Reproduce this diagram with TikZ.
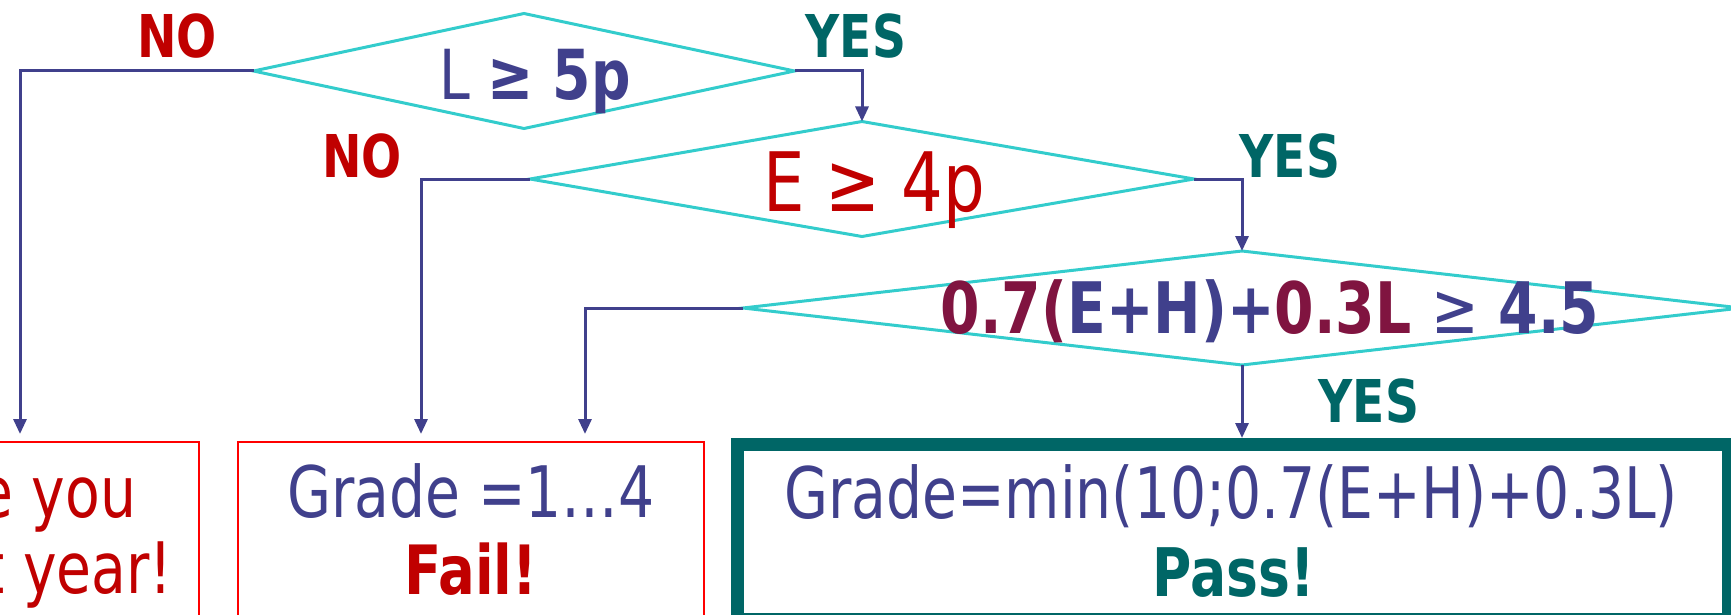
\documentclass[tikz,border=0pt]{standalone}
\usepackage{fontspec}
\setmainfont{DejaVu Sans}[FakeStretch=0.8]
\usetikzlibrary{shapes.geometric,arrows.meta}

\definecolor{flowblue}{RGB}{64,64,140}
\definecolor{flowcyan}{RGB}{51,204,204}
\definecolor{flowred}{RGB}{192,0,0}
\definecolor{boxred}{RGB}{255,0,0}
\definecolor{flowteal}{RGB}{0,102,102}
\definecolor{flowmaroon}{RGB}{128,20,64}

\newcommand{\fsz}[1]{\fontsize{#1}{#1}\selectfont}

\begin{document}
\begin{tikzpicture}[
    x=1pt, y=-1pt,
    test/.style={diamond, draw=flowcyan, line width=3pt, inner sep=0pt, outer sep=0pt},
    redbox/.style={draw=boxred, line width=2pt, minimum width=466pt, minimum height=200pt},
    passbox/.style={draw=flowteal, line width=13pt, minimum width=991pt, minimum height=175pt},
    txt/.style={anchor=base, inner sep=0pt, font=\fsz{71}},
    lbl/.style={inner sep=0pt, font=\bfseries\fsz{59}},
    arr/.style={-{Triangle[length=15pt,width=13pt]}, draw=flowblue, line width=3pt}
]
\useasboundingbox (0,0) rectangle (1731,615);
\clip (0,0) rectangle (1731,615);

% decisions
\node[test, minimum width=541pt, minimum height=115pt]  (d1) at (524,71)  {};
\node[test, minimum width=664pt, minimum height=115pt]  (d2) at (862,179) {};
\node[test, minimum width=998pt, minimum height=114pt]  (d3) at (1242,308) {};

\node[txt, font=\fsz{69}, text=flowblue] (d1txt) at (535,100) {L \textbf{≥ 5p}};
\node[txt, font=\fsz{82}, text=flowred]  (d2txt) at (874,211) {E ≥ 4p};
\node[txt, font=\bfseries\fsz{71}, text=flowblue] (d3txt) at (1270,333)
    {{\color{flowmaroon}0.7(}E+H)+{\color{flowmaroon}0.3L} {\mdseries ≥} 4.5};

% answers
\node[lbl, text=flowred]  (no1)  at (177,36)   {NO};
\node[lbl, text=flowteal] (yes1) at (856,36)   {YES};
\node[lbl, text=flowred]  (no2)  at (362,156)  {NO};
\node[lbl, text=flowteal] (yes2) at (1290,156) {YES};
\node[lbl, text=flowteal] (yes3) at (1369,401) {YES};

% outcomes
\node[redbox, minimum width=370pt] (see) at (14,542) {};
\node[txt, text=flowred] (seetop) at (22,517) {See you};
\node[txt, text=flowred] (seebot) at (26,593) {next year!};

\node[redbox] (fail) at (471,542) {};
\node[txt, text=flowblue] (failtop) at (471,517) {Grade =1…4};
\node[txt, font=\bfseries\fsz{68}, text=flowred] (failbot) at (471,594) {Fail!};

\node[passbox] (pass) at (1233,532) {};
\node[txt, text=flowblue] (passtop) at (1231,518) {Grade=min(10;0.7(E+H)+0.3L)};
\node[txt, font=\bfseries\fsz{67}, text=flowteal] (passbot) at (1234,596) {Pass!};

\draw[arr] (d1.east) -| (d2.north);
\draw[arr] (d2.east) -| (d3.north);
\draw[arr] (d3.south) -- (d3.south |- pass.north);
\draw[arr, shorten >=7pt] (d1.west) -| ([xshift=6pt]see.north);
\draw[arr, shorten >=7pt] (d2.west) -| ([xshift=-50pt]fail.north);
\draw[arr, shorten >=7pt] (d3.west) -| ([xshift=114pt]fail.north);
\end{tikzpicture}
\end{document}
